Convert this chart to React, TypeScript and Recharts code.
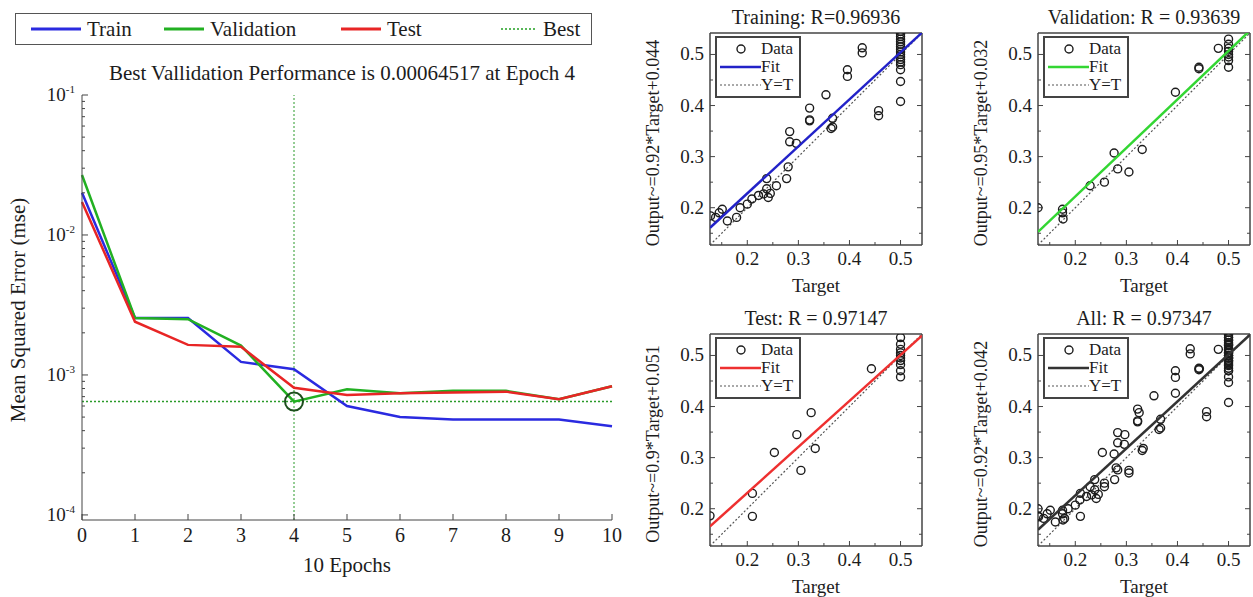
import {
  Line,
  LineChart,
  ReferenceDot,
  ReferenceLine,
  Scatter,
  ScatterChart,
  XAxis,
  YAxis,
} from 'recharts'

const FONT = '"Liberation Serif", "DejaVu Serif", serif'
const INK = '#1c1c1c'

// ---- performance plot data ----
const epochs = [0, 1, 2, 3, 4, 5, 6, 7, 8, 9, 10]
const trainPerf = [0.02, 0.00255, 0.00255, 0.00124, 0.0011, 0.0006, 0.0005, 0.00048, 0.00048, 0.00048, 0.00043]
const valPerf = [0.0268, 0.00255, 0.0025, 0.00162, 0.00064517, 0.00079, 0.00074, 0.00077, 0.00077, 0.00067, 0.00083]
const testPerf = [0.0172, 0.0024, 0.00164, 0.00159, 0.00081, 0.00072, 0.00074, 0.00075, 0.00076, 0.00067, 0.00083]
const bestEpoch = 4
const bestPerf = 0.00064517
const decades = [1e-4, 1e-3, 1e-2, 1e-1]
const perfDomain = [0.000092, 0.1]

// ---- regression plot data ----
const trainTarget = [
  0.128, 0.138, 0.145, 0.151, 0.161, 0.179, 0.186, 0.2, 0.209, 0.222, 0.232, 0.238, 0.241, 0.238, 0.245, 0.257,
  0.283, 0.283, 0.28, 0.277, 0.296, 0.322, 0.322, 0.322, 0.354, 0.364, 0.367, 0.367, 0.396, 0.396, 0.425, 0.425,
  0.457, 0.457, 0.5, 0.5, 0.5, 0.5, 0.5, 0.5, 0.5, 0.5, 0.5, 0.5, 0.5, 0.5, 0.5, 0.5, 0.5, 0.5, 0.5,
]
const trainOutput = [
  0.184, 0.181, 0.19, 0.197, 0.174, 0.181, 0.2, 0.207, 0.217, 0.224, 0.227, 0.237, 0.22, 0.257, 0.228, 0.243,
  0.349, 0.329, 0.28, 0.257, 0.326, 0.395, 0.372, 0.37, 0.421, 0.355, 0.375, 0.358, 0.47, 0.457, 0.513, 0.503,
  0.39, 0.38, 0.545, 0.54, 0.535, 0.53, 0.525, 0.52, 0.515, 0.51, 0.505, 0.5, 0.495, 0.49, 0.485, 0.48, 0.47, 0.447, 0.408,
]
const valTarget = [0.127, 0.175, 0.175, 0.176, 0.229, 0.257, 0.276, 0.283, 0.305, 0.331, 0.396, 0.442, 0.442, 0.48, 0.5, 0.5, 0.5, 0.5, 0.5, 0.5, 0.5, 0.5]
const valOutput = [0.2, 0.197, 0.19, 0.178, 0.243, 0.25, 0.307, 0.276, 0.27, 0.314, 0.426, 0.472, 0.475, 0.512, 0.53, 0.52, 0.512, 0.506, 0.5, 0.495, 0.488, 0.475]
const testTarget = [0.127, 0.21, 0.21, 0.253, 0.297, 0.305, 0.325, 0.333, 0.443, 0.5, 0.5, 0.5, 0.5, 0.5, 0.5, 0.5, 0.5, 0.5, 0.5]
const testOutput = [0.186, 0.23, 0.185, 0.31, 0.345, 0.275, 0.388, 0.318, 0.474, 0.535, 0.522, 0.512, 0.505, 0.5, 0.495, 0.49, 0.482, 0.47, 0.458]

const panelTitles = ['Training: R=0.96936', 'Validation: R = 0.93639', 'Test: R = 0.97147', 'All: R = 0.97347']
const panelYLabels = [
  'Output~=0.92*Target+0.044',
  'Output~=0.95*Target+0.032',
  'Output~=0.9*Target+0.051',
  'Output~=0.92*Target+0.042',
]
const fitSlope = [0.92, 0.95, 0.9, 0.92]
const fitIntercept = [0.044, 0.032, 0.051, 0.042]
const fitColors = ['#2222c8', '#33d633', '#ee3030', '#333333']
const panelTargets = [trainTarget, valTarget, testTarget, [...trainTarget, ...valTarget, ...testTarget]]
const panelOutputs = [trainOutput, valOutput, testOutput, [...trainOutput, ...valOutput, ...testOutput]]
const regTicks = [0.15, 0.2, 0.25, 0.3, 0.35, 0.4, 0.45, 0.5]
const regDomain = [0.127, 0.542]

// minor log ticks 1..9 x 10^k
const perfTicks: number[] = []
decades.slice(0, 3).forEach((d) => {
  for (let m = 1; m < 10; m++) perfTicks.push(d * m)
})
perfTicks.push(0.1)

function Txt({ x, y, size = 20, rotate = false, children }: any) {
  return (
    <div
      style={{
        position: 'absolute',
        left: x,
        top: y,
        transform: `translate(-50%, -50%)${rotate ? ' rotate(-90deg)' : ''}`,
        fontFamily: FONT,
        fontSize: size,
        whiteSpace: 'nowrap',
        color: INK,
        lineHeight: 1,
      }}
    >
      {children}
    </div>
  )
}

function LogTick({ x, y, payload }: any) {
  const v = payload.value
  const exp = Math.round(Math.log10(v))
  const major = Math.abs(v - Math.pow(10, exp)) < v * 1e-6
  return (
    <g>
      <line x1={x} y1={y} x2={x + (major ? 6 : 3)} y2={y} stroke="#444" />
      {major && (
        <text x={x - 7} y={y + 6} textAnchor="end" fontSize={19} fontFamily={FONT} fill={INK}>
          10
          <tspan dy={-8} fontSize={11}>
            {exp}
          </tspan>
        </text>
      )}
    </g>
  )
}

function EpochTick({ x, y, payload }: any) {
  return (
    <g>
      <line x1={x} y1={y} x2={x} y2={y - 6} stroke="#444" />
      <text x={x} y={y + 22} textAnchor="middle" fontSize={20} fontFamily={FONT} fill={INK}>
        {payload.value}
      </text>
    </g>
  )
}

const isMajor = (v: number) => Math.abs(v * 10 - Math.round(v * 10)) < 1e-6

const regTick = (side: string) => (props: any) => {
  const { x, y, payload } = props
  const v = payload.value
  const len = isMajor(v) ? 5 : 3
  if (side === 'bottom')
    return (
      <g>
        <line x1={x} y1={y} x2={x} y2={y - len} stroke="#444" />
        {isMajor(v) && (
          <text x={x} y={y + 20} textAnchor="middle" fontSize={19} fontFamily={FONT} fill={INK}>
            {v.toFixed(1)}
          </text>
        )}
      </g>
    )
  if (side === 'top') return <line x1={x} y1={y} x2={x} y2={y + len} stroke="#444" />
  if (side === 'left')
    return (
      <g>
        <line x1={x} y1={y} x2={x + len} y2={y} stroke="#444" />
        {isMajor(v) && (
          <text x={x - 6} y={y + 6} textAnchor="end" fontSize={19} fontFamily={FONT} fill={INK}>
            {v.toFixed(1)}
          </text>
        )}
      </g>
    )
  return <line x1={x} y1={y} x2={x - len} y2={y} stroke="#444" />
}

const Circle = (p: any) => <circle cx={p.cx} cy={p.cy} r={4} fill="none" stroke={INK} strokeWidth={1.4} />

function PerfLegend() {
  const item = (x: number, len: number, color: string, label: string, dotted = false) => (
    <div style={{ position: 'absolute', left: x, top: 0, height: 30, display: 'flex', alignItems: 'center' }}>
      <svg width={len + 6} height={10}>
        <line x1={0} y1={5} x2={len} y2={5} stroke={color} strokeWidth={dotted ? 1.5 : 3} strokeDasharray={dotted ? '2 2' : undefined} />
      </svg>
      <span style={{ fontFamily: FONT, fontSize: 21, color: INK }}>{label}</span>
    </div>
  )
  return (
    <div style={{ position: 'absolute', left: 15, top: 13, width: 575, height: 30, border: '1.5px solid #555' }}>
      {item(15, 50, '#2a2ae0', 'Train')}
      {item(148, 40, '#22b022', 'Validation')}
      {item(325, 40, '#e82525', 'Test')}
      {item(485, 36, '#22a022', 'Best', true)}
    </div>
  )
}

function PerfChart() {
  const data = epochs.map((e, i) => ({ epoch: e, train: trainPerf[i], val: valPerf[i], test: testPerf[i] }))
  return (
    <>
      <div style={{ position: 'absolute', left: 0, top: 0 }}>
        <LineChart width={625} height={597} data={data} margin={{ top: 95, right: 13, bottom: 0, left: 0 }}>
          <XAxis
            dataKey="epoch"
            type="number"
            domain={[0, 10]}
            ticks={epochs}
            interval={0}
            height={77}
            tick={EpochTick}
            tickLine={false}
            tickSize={0}
            tickMargin={0}
            stroke="#444"
          />
          <YAxis
            scale="log"
            type="number"
            domain={perfDomain}
            allowDataOverflow
            ticks={perfTicks}
            interval={0}
            width={82}
            tick={LogTick}
            tickLine={false}
            tickSize={0}
            tickMargin={0}
            stroke="#444"
          />
          <ReferenceLine y={bestPerf} stroke="#2a9a2a" strokeDasharray="2 2" strokeWidth={1.5} />
          <ReferenceLine x={bestEpoch} stroke="#2a9a2a" strokeDasharray="2 2" strokeWidth={1} />
          <Line type="linear" dataKey="train" stroke="#2a2ae0" strokeWidth={2.5} dot={false} isAnimationActive={false} />
          <Line type="linear" dataKey="val" stroke="#22b022" strokeWidth={2.5} dot={false} isAnimationActive={false} />
          <Line type="linear" dataKey="test" stroke="#e82525" strokeWidth={2.5} dot={false} isAnimationActive={false} />
          <ReferenceDot x={bestEpoch} y={bestPerf} r={9} fill="none" stroke="#1d4f1d" strokeWidth={2} />
        </LineChart>
      </div>
      <PerfLegend />
      <Txt x={342} y={73} size={21}>
        Best Vallidation Performance is 0.00064517 at Epoch 4
      </Txt>
      <Txt x={347} y={565} size={21}>
        10 Epochs
      </Txt>
      <Txt x={18} y={310} size={21} rotate>
        Mean Squared Error (mse)
      </Txt>
    </>
  )
}

function RegLegend({ x, y, color }: any) {
  const row = (top: number, kind: string, label: string) => (
    <div style={{ position: 'absolute', left: 0, top, height: 17, display: 'flex', alignItems: 'center' }}>
      <svg width={44} height={12}>
        {kind === 'data' && <circle cx={24} cy={6} r={4} fill="none" stroke={INK} strokeWidth={1.4} />}
        {kind === 'fit' && <line x1={3} y1={6} x2={44} y2={6} stroke={color} strokeWidth={2.5} />}
        {kind === 'yt' && <line x1={3} y1={6} x2={44} y2={6} stroke="#555" strokeWidth={1.2} strokeDasharray="2 2" />}
      </svg>
      <span style={{ fontFamily: FONT, fontSize: 17, color: INK, lineHeight: '17px' }}>{label}</span>
    </div>
  )
  return (
    <div style={{ position: 'absolute', left: x, top: y, width: 82, height: 58, border: '2px solid #444', background: '#fff' }}>
      {row(2, 'data', 'Data')}
      {row(20, 'fit', 'Fit')}
      {row(38, 'yt', 'Y=T')}
    </div>
  )
}

function RegressionPanel({ idx, left, top }: any) {
  const target = panelTargets[idx]
  const output = panelOutputs[idx]
  const data = target.map((t: number, i: number) => ({ t, o: output[i] }))
  const [lo, hi] = regDomain
  const fit = [
    { t: lo, o: fitSlope[idx] * lo + fitIntercept[idx] },
    { t: hi, o: fitSlope[idx] * hi + fitIntercept[idx] },
  ]
  const w = 212
  const h = 212
  return (
    <>
      <div style={{ position: 'absolute', left: left - 70, top: top - 2 }}>
        <ScatterChart width={70 + w + 2} height={2 + h + 55} margin={{ top: 0, right: 0, bottom: 0, left: 0 }}>
          <XAxis
            xAxisId="b"
            dataKey="t"
            type="number"
            domain={regDomain}
            allowDataOverflow
            ticks={regTicks}
            interval={0}
            height={55}
            tick={regTick('bottom')}
            tickLine={false}
            tickSize={0}
            tickMargin={0}
            stroke="#444"
            strokeWidth={1.5}
          />
          <XAxis
            xAxisId="t"
            orientation="top"
            type="number"
            domain={regDomain}
            allowDataOverflow
            ticks={regTicks}
            interval={0}
            height={2}
            tick={regTick('top')}
            tickLine={false}
            tickSize={0}
            tickMargin={0}
            stroke="#444"
            strokeWidth={1.5}
          />
          <YAxis
            yAxisId="l"
            dataKey="o"
            type="number"
            domain={regDomain}
            allowDataOverflow
            ticks={regTicks}
            interval={0}
            width={70}
            tick={regTick('left')}
            tickLine={false}
            tickSize={0}
            tickMargin={0}
            stroke="#444"
            strokeWidth={1.5}
          />
          <YAxis
            yAxisId="r"
            orientation="right"
            type="number"
            domain={regDomain}
            allowDataOverflow
            ticks={regTicks}
            interval={0}
            width={2}
            tick={regTick('right')}
            tickLine={false}
            tickSize={0}
            tickMargin={0}
            stroke="#444"
            strokeWidth={1.5}
          />
          <Scatter xAxisId="b" yAxisId="l" data={data} shape={Circle} isAnimationActive={false} />
          <Scatter
            xAxisId="b"
            yAxisId="l"
            data={fit}
            line={{ stroke: fitColors[idx], strokeWidth: 2.5 }}
            shape={() => <g />}
            isAnimationActive={false}
          />
          <ReferenceLine
            xAxisId="b"
            yAxisId="l"
            segment={[
              { x: lo, y: lo },
              { x: hi, y: hi },
            ]}
            stroke="#555"
            strokeWidth={1.2}
            strokeDasharray="2 2"
          />
        </ScatterChart>
      </div>
      <RegLegend x={left + 5} y={top + 3} color={fitColors[idx]} />
      <Txt x={left + w / 2} y={top - 16} size={20}>
        {panelTitles[idx]}
      </Txt>
      <Txt x={left + w / 2} y={top + h + 40} size={19}>
        Target
      </Txt>
      <Txt x={left - 57} y={top + h / 2 + 4} size={18} rotate>
        {panelYLabels[idx]}
      </Txt>
    </>
  )
}

export default function App() {
  return (
    <div style={{ position: 'absolute', left: 0, top: 0, width: 1253, height: 597, overflow: 'hidden', background: '#fff' }}>
      <PerfChart />
      <RegressionPanel idx={0} left={710} top={33} />
      <RegressionPanel idx={1} left={1038} top={33} />
      <RegressionPanel idx={2} left={710} top={334} />
      <RegressionPanel idx={3} left={1038} top={334} />
    </div>
  )
}
